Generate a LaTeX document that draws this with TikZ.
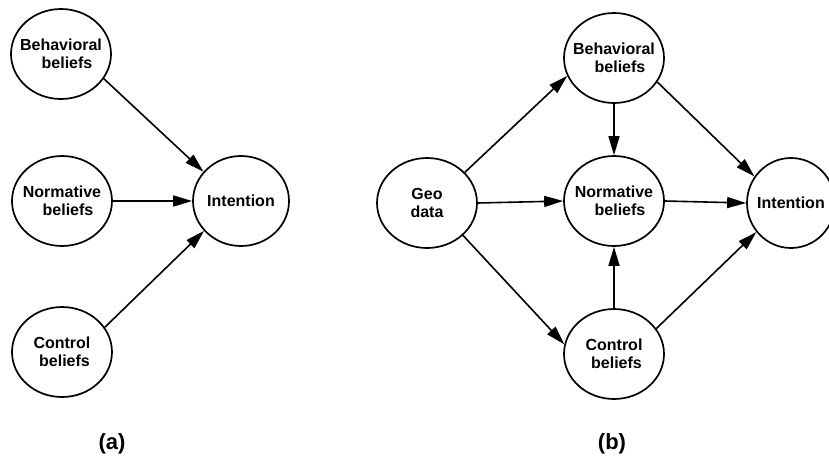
\documentclass[tikz,border=0pt]{standalone}
\usepackage{fontspec}
\setmainfont{Liberation Sans}
\usetikzlibrary{shapes.geometric,arrows.meta}

\begin{document}
\begin{tikzpicture}[x=1pt,y=-1pt,
  construct/.style={ellipse,draw,line width=1.7pt,minimum width=100pt,minimum height=90pt,
    inner sep=0pt,label={[align=center,inner sep=0pt,
      font=\fontsize{16}{18.5}\selectfont\bfseries]center:#1}},
  link/.style={line width=1.6pt,-{Triangle[length=19pt,width=11pt]}},
  panel/.style={font=\fontsize{22}{24}\selectfont\bfseries}]
\useasboundingbox (0,0) rectangle (829,458);

% (a) classic theory of planned behaviour
\node[construct={Behavioral\\\hspace*{12pt}beliefs}] (bA) at (61,54) {};
\node[construct={Normative\\\hspace*{12pt}beliefs}] (nA) at (62,201) {};
\node[construct={Control\\\hspace*{5pt}beliefs}] (cA) at (62,352) {};
\node[construct={Intention},minimum width=96pt] (iA) at (241,201) {};
\node[panel] (la) at (112,444) {(a)};

\draw[link] (bA.-30) -- (iA.142);
\draw[link] (nA.east) -- (iA.west);
\draw[link] (cA.30) -- (iA.219);

% (b) extended model with geographic data
\node[construct={Geo\\data}] (geo) at (427,203) {};
\node[construct={Behavioral\\\hspace*{12pt}beliefs}] (bB) at (614,58) {};
\node[construct={Normative\\\hspace*{12pt}beliefs}] (nB) at (614,201) {};
\node[construct={Control\\\hspace*{5pt}beliefs}] (cB) at (614,354) {};
\node[construct={Intention},minimum width=88pt] (iB) at (791,203) {};
\node[panel] (lb) at (612,444) {(b)};

\draw[link] (geo.39) -- (bB.-159);
\draw[link] (geo.east) -- (nB.west);
\draw[link] (geo.-42) -- (cB.169);
\draw[link] (bB.south) -- (nB.north);
\draw[link] (cB.north) -- (nB.south);
\draw[link] (bB.-29) -- (iB.144);
\draw[link] (nB.east) -- (iB.west);
\draw[link] (cB.31) -- (iB.220);
\end{tikzpicture}
\end{document}
